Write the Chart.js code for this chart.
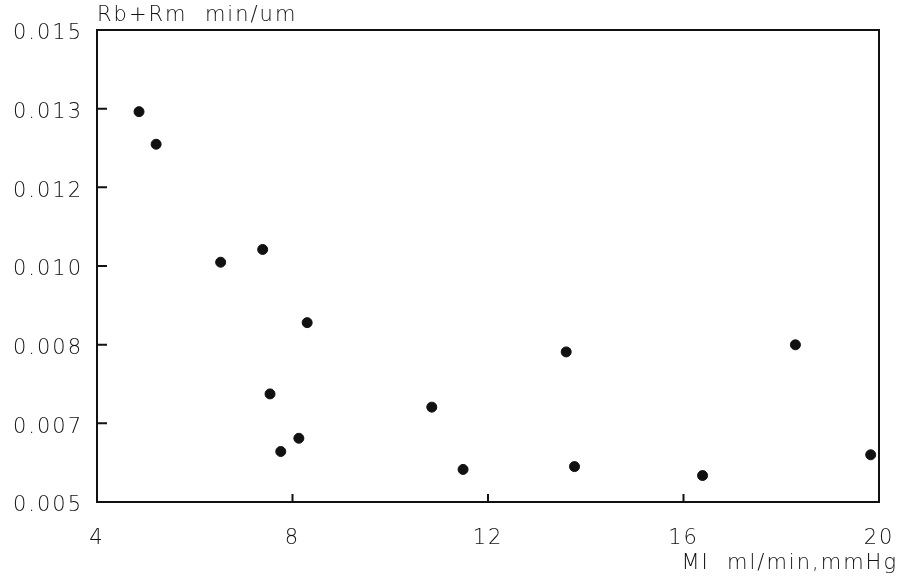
<!DOCTYPE html>
<html>
<head>
<meta charset="utf-8">
<script src="https://cdn.jsdelivr.net/npm/chart.js@4/dist/chart.umd.min.js"></script>
<style>
  html, body { margin: 0; padding: 0; background: #ffffff; }
  #wrap { width: 905px; height: 582px; position: relative; }
</style>
</head>
<body>
<div id="wrap"><canvas id="c" width="905" height="582"></canvas></div>
<script>
// ---- data ----
const miValues = [4.86, 5.21, 6.53, 7.39, 8.30, 7.54, 7.76, 8.13, 10.85, 11.49, 13.60, 13.77, 16.39, 18.29, 19.83];
const rbrmValues = [0.01327, 0.01258, 0.01008, 0.01035, 0.00880, 0.00729, 0.00607, 0.00635, 0.00701, 0.00569, 0.00818, 0.00575, 0.00556, 0.00833, 0.00600];
const xTickValues = [4, 8, 12, 16, 20];
const yTickValues = [0.005, 0.0066667, 0.0083333, 0.010, 0.0116667, 0.0133333, 0.015];
const yTickLabels = ['0.005', '0.007', '0.008', '0.010', '0.012', '0.013', '0.015'];
const yTitleText = 'Rb+Rm  min/um';
const xTitleText = 'MI  ml/min,mmHg';

const points = miValues.map((x, i) => ({ x: x, y: rbrmValues[i] }));

const FONT = { family: "'DejaVu Sans', sans-serif", size: 21, weight: '300', lineHeight: '24px' };
const SPACING = '2px';

const spacingPlugin = {
  id: 'spacing',
  beforeUpdate(chart) { chart.ctx.letterSpacing = SPACING; },
  beforeLayout(chart) { chart.ctx.letterSpacing = SPACING; },
  beforeDraw(chart) { chart.ctx.letterSpacing = SPACING; }
};

const framePlugin = {
  id: 'frame',
  afterDraw(chart) {
    const { ctx, chartArea: a } = chart;
    ctx.save();
    ctx.strokeStyle = '#111';
    ctx.lineWidth = 2;
    ctx.strokeRect(a.left, a.top, a.right - a.left, a.bottom - a.top);
    // inward tick marks, positioned through the scales
    const xs = chart.scales.x, ys = chart.scales.y;
    ctx.beginPath();
    xs.ticks.forEach(t => {
      const px = xs.getPixelForValue(t.value);
      ctx.moveTo(px, a.bottom);
      ctx.lineTo(px, a.bottom - 8);
    });
    ys.ticks.forEach(t => {
      const py = ys.getPixelForValue(t.value);
      ctx.moveTo(a.left, py);
      ctx.lineTo(a.left + 10, py);
    });
    ctx.stroke();
    ctx.restore();
  }
};

new Chart(document.getElementById('c'), {
  type: 'scatter',
  data: {
    datasets: [{
      data: points,
      pointRadius: 5,
      pointHoverRadius: 5,
      pointBackgroundColor: '#111',
      pointBorderColor: '#111',
      pointBorderWidth: 1
    }]
  },
  options: {
    responsive: false,
    animation: false,
    devicePixelRatio: 1,
    layout: { padding: { left: 0, right: 7, top: 0, bottom: 0 } },
    plugins: {
      legend: { display: false },
      tooltip: { enabled: false },
      title: {
        display: true,
        text: yTitleText,
        position: 'top',
        align: 'start',
        fullSize: false,
        color: '#111',
        font: FONT,
        padding: { top: 4, bottom: 2 }
      },
      subtitle: {
        display: true,
        text: xTitleText,
        position: 'bottom',
        align: 'end',
        fullSize: true,
        color: '#111',
        font: FONT,
        padding: { top: -20, bottom: 6 }
      }
    },
    scales: {
      x: {
        type: 'linear',
        position: 'bottom',
        min: 4,
        max: 20,
        afterBuildTicks: (s) => { s.ticks = xTickValues.map(v => ({ value: v })); },
        afterFit: (s) => { s.paddingLeft = 0; s.paddingRight = 0; s.height = 70; },
        grid: { display: false, drawTicks: false },
        border: { display: false },
        ticks: {
          color: '#111',
          font: FONT,
          padding: 25,
          maxRotation: 0,
          callback: (v) => String(v)
        }
      },
      y: {
        type: 'linear',
        position: 'left',
        min: 0.005,
        max: 0.015,
        afterBuildTicks: (s) => { s.ticks = yTickValues.map(v => ({ value: v })); },
        afterFit: (s) => { s.width = 97; s.paddingTop = 0; s.paddingBottom = 0; },
        grid: { display: false, drawTicks: false },
        border: { display: false },
        ticks: {
          color: '#111',
          font: FONT,
          padding: 14,
          labelOffset: 4,
          callback: (v, i) => yTickLabels[i]
        }
      },
      y2: {
        type: 'linear',
        position: 'right',
        display: true,
        afterFit: (s) => { s.width = 19; s.paddingTop = 0; s.paddingBottom = 0; },
        grid: { display: false, drawTicks: false },
        border: { display: false },
        ticks: { display: false }
      }
    }
  },
  plugins: [spacingPlugin, framePlugin]
});
</script>
</body>
</html>
